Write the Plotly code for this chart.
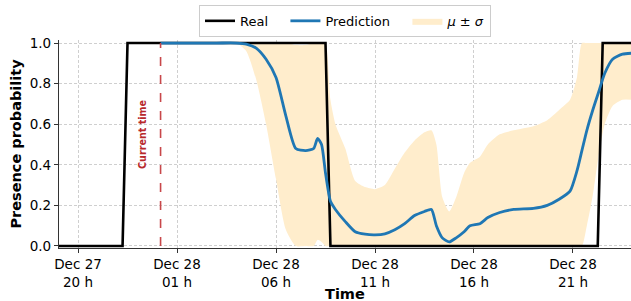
import pandas as pd
import plotly.graph_objects as go

BASE = pd.Timestamp("2023-12-28 00:00")

# Real presence (hours relative to Dec 28 00:00)
real_hours = [-5.0, -1.75, -1.5, 8.5, 8.75, 22.25, 22.5, 24.0]
real_values = [0, 0, 1, 1, 0, 0, 1, 1]

# Prediction mean and band (hours relative to Dec 28 00:00)
pred_hours = [0.17, 3.0, 4.0, 4.5, 5.0, 5.5, 6.0, 6.5, 7.0, 7.5, 7.9, 8.1, 8.3, 8.5,
              8.75, 9.0, 9.5, 10.0, 10.5, 11.0, 11.5, 12.0, 12.5, 13.0, 13.5, 13.85,
              14.1, 14.4, 14.75, 15.1, 15.5, 15.8, 16.3, 16.7, 17.3, 18.0, 19.0, 19.7,
              20.3, 20.85, 21.2, 21.45, 21.7, 22.0, 22.3, 22.6, 23.0, 23.5, 24.0]
pred_mean = [1.0, 1.0, 1.0, 0.995, 0.975, 0.92, 0.83, 0.64, 0.48, 0.47, 0.48, 0.53, 0.50, 0.36,
             0.22, 0.18, 0.12, 0.07, 0.058, 0.055, 0.06, 0.08, 0.11, 0.15, 0.17, 0.18,
             0.10, 0.04, 0.02, 0.04, 0.07, 0.10, 0.11, 0.14, 0.165, 0.18, 0.185, 0.20,
             0.23, 0.27, 0.37, 0.47, 0.57, 0.67, 0.76, 0.85, 0.92, 0.945, 0.95]
band_low = [1.0, 1.0, 1.0, 0.96, 0.82, 0.60, 0.33, 0.08, 0.0, 0.0, 0.0, 0.03, 0.02, 0.0,
            0.0, 0.0, 0.0, 0.0, 0.0, 0.0, 0.0, 0.0, 0.0, 0.0, 0.0, 0.0,
            0.0, 0.0, 0.0, 0.0, 0.0, 0.0, 0.0, 0.0, 0.0, 0.0, 0.0, 0.0,
            0.0, 0.0, 0.0, 0.0, 0.10, 0.25, 0.45, 0.60, 0.69, 0.72, 0.72]
band_high = [1.0, 1.0, 1.0, 1.0, 1.0, 1.0, 1.0, 1.0, 0.99, 0.99, 1.0, 1.0, 1.0, 1.0,
             0.72, 0.60, 0.48, 0.32, 0.29, 0.28, 0.30, 0.38, 0.46, 0.52, 0.56, 0.57,
             0.50, 0.24, 0.17, 0.24, 0.36, 0.41, 0.44, 0.50, 0.55, 0.57, 0.59, 0.62,
             0.67, 0.72, 0.83, 1.0, 1.0, 1.0, 1.0, 1.0, 1.0, 1.0, 1.0]

current_time_hours = 0.17

tick_hours = [-4, 1, 6, 11, 16, 21]
tick_labels = ["Dec 27<br>20 h", "Dec 28<br>01 h", "Dec 28<br>06 h",
               "Dec 28<br>11 h", "Dec 28<br>16 h", "Dec 28<br>21 h"]


def to_time(hours):
    return [BASE + pd.Timedelta(hours=h) for h in hours]


FONT = "DejaVu Sans"
PAD = "\u00a0\u00a0\u00a0"
fig = go.Figure()

fig.add_trace(go.Scatter(x=to_time(pred_hours), y=band_low, mode="lines",
                         line=dict(width=0, shape="spline", smoothing=0.6),
                         showlegend=False, hoverinfo="skip"))
fig.add_trace(go.Scatter(x=to_time(pred_hours), y=band_high, mode="lines",
                         line=dict(width=0, shape="spline", smoothing=0.6),
                         fill="tonexty", fillcolor="#ffedcc",
                         name="<i>μ</i> ± <i>σ</i>", legendrank=3))
fig.add_trace(go.Scatter(x=to_time(real_hours), y=real_values, mode="lines",
                         line=dict(color="black", width=2.6),
                         name="Real" + PAD, legendrank=1))
fig.add_trace(go.Scatter(x=to_time(pred_hours), y=pred_mean, mode="lines",
                         line=dict(color="#1f77b4", width=2.8, shape="spline", smoothing=0.6),
                         name="Prediction" + PAD, legendrank=2))

ct = BASE + pd.Timedelta(hours=current_time_hours)
fig.add_shape(type="line", x0=ct, x1=ct, y0=0, y1=1, xref="x", yref="y",
              line=dict(color="#c8474a", width=1.6, dash="dash"))
fig.add_annotation(x=ct, y=0.55, xref="x", yref="y", text="<b>Current time</b>",
                   textangle=-90, showarrow=False, xshift=-18,
                   font=dict(family=FONT, size=9.6, color="#b8282c"))
fig.add_annotation(x=0.5, y=-0.222, xref="paper", yref="paper", text="<b>Time</b>",
                   showarrow=False, xanchor="center", yanchor="middle",
                   font=dict(family=FONT, size=14.5, color="black"))

GRID_DASH = "3px,2px"
fig.update_layout(
    width=631, height=301,
    margin=dict(l=59, r=0, t=40, b=53),
    plot_bgcolor="white", paper_bgcolor="white",
    font=dict(family=FONT, size=13.5, color="black"),
    legend=dict(orientation="h", x=0.5, xanchor="center", y=1.015, yanchor="bottom",
                bordercolor="#cccccc", borderwidth=1, bgcolor="white",
                font=dict(family=FONT, size=13), traceorder="normal"),
    xaxis=dict(
        range=[BASE + pd.Timedelta(hours=-4.96), BASE + pd.Timedelta(hours=23.93)],
        tickvals=to_time(tick_hours), ticktext=tick_labels,
        showgrid=True, gridcolor="#cfcfcf", griddash=GRID_DASH, gridwidth=0.8,
        showline=True, linecolor="#333333", linewidth=1.2,
        ticks="outside", ticklen=4, tickcolor="#333333",
        automargin=False, zeroline=False,
    ),
    yaxis=dict(
        range=[-0.01, 1.015],
        tickvals=[0, 0.2, 0.4, 0.6, 0.8, 1.0],
        ticktext=["0.0", "0.2", "0.4", "0.6", "0.8", "1.0"],
        showgrid=True, gridcolor="#cfcfcf", griddash=GRID_DASH, gridwidth=0.8,
        showline=True, linecolor="#333333", linewidth=1.2,
        ticks="outside", ticklen=4, tickcolor="#333333",
        title=dict(text="<b>Presence probability</b>", font=dict(family=FONT, size=14.5), standoff=4),
        automargin=False, zeroline=False,
    ),
)

fig.write_html("out.html", config={"displayModeBar": False},
               post_script="document.body.style.margin='0';document.body.style.overflow='hidden';")
